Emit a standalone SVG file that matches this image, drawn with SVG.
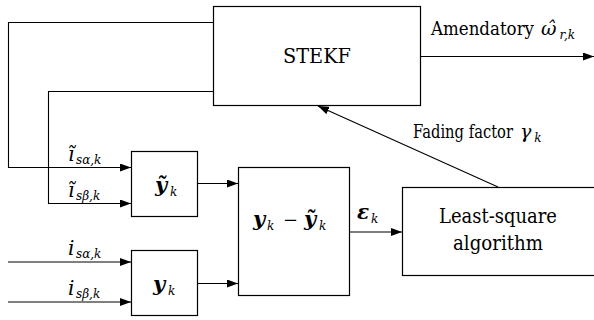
<svg xmlns="http://www.w3.org/2000/svg" width="594" height="320" viewBox="0 0 594 320">
<style>
.box{fill:#fff;stroke:#000;stroke-width:1.2}
.ln{fill:none;stroke:#000;stroke-width:1.1}
text{font-family:'DejaVu Serif',serif;fill:#000}
.it{font-style:italic}
.bi{font-style:italic;font-weight:bold}
.sub{font-style:italic;font-size:12px}
</style>
<defs>
<marker id="ah" markerUnits="userSpaceOnUse" markerWidth="12" markerHeight="8" refX="11" refY="4" orient="auto">
<path d="M0,0 L11,4 L0,8 z" fill="#000"/>
</marker>
</defs>
<g id="connectors">
<polyline class="ln" points="213,22.5 8.5,22.5 8.5,167.5 131,167.5" marker-end="url(#ah)"/>
<polyline class="ln" points="213,91.5 48.5,91.5 48.5,203.5 131,203.5" marker-end="url(#ah)"/>
<line class="ln" x1="8" y1="262" x2="131" y2="262" marker-end="url(#ah)"/>
<line class="ln" x1="8" y1="302" x2="131" y2="302" marker-end="url(#ah)"/>
<line class="ln" x1="197" y1="183.5" x2="238" y2="183.5" marker-end="url(#ah)"/>
<line class="ln" x1="197" y1="283.5" x2="238" y2="283.5" marker-end="url(#ah)"/>
<line class="ln" x1="350" y1="232" x2="402" y2="232" marker-end="url(#ah)"/>
<line class="ln" x1="498" y1="187" x2="318" y2="106" marker-end="url(#ah)"/>
<line class="ln" x1="420" y1="56.5" x2="594" y2="56.5" marker-end="url(#ah)"/>
</g>
<g id="stekf">
<rect class="box" x="213.5" y="6.5" width="207" height="99"/>
<text x="283" y="63" font-size="21" textLength="68" lengthAdjust="spacingAndGlyphs">STEKF</text>
</g>
<g id="ytilde">
<rect class="box" x="131.5" y="151.5" width="66" height="65"/>
<text y="192" font-size="21"><tspan class="bi" x="155">ỹ</tspan><tspan class="sub" x="170" dy="4">k</tspan></text>
</g>
<g id="ymeas">
<rect class="box" x="131.5" y="250.5" width="66" height="65"/>
<text y="291" font-size="21"><tspan class="bi" x="153">y</tspan><tspan class="sub" x="168" dy="4">k</tspan></text>
</g>
<g id="diff">
<rect class="box" x="238.5" y="167.5" width="111" height="128"/>
<text y="226" font-size="21"><tspan class="bi" x="253">y</tspan><tspan class="sub" x="267" dy="4">k</tspan><tspan x="283" dy="-4" font-size="18">−</tspan><tspan class="bi" x="304">ỹ</tspan><tspan class="sub" x="319" dy="4">k</tspan></text>
</g>
<g id="lsq">
<rect class="box" x="402.5" y="187.5" width="194" height="88"/>
<text x="439" y="223" font-size="21" textLength="118" lengthAdjust="spacingAndGlyphs">Least-square</text>
<text x="453" y="250" font-size="21" textLength="90" lengthAdjust="spacingAndGlyphs">algorithm</text>
</g>
<g id="labels">
<text x="431" y="35" font-size="19"><tspan textLength="103" lengthAdjust="spacingAndGlyphs">Amendatory</tspan><tspan class="it" dx="7">ω̂</tspan><tspan class="sub" dx="3" dy="4">r,k</tspan></text>
<text x="413" y="138" font-size="19"><tspan textLength="100" lengthAdjust="spacingAndGlyphs">Fading factor</tspan><tspan class="it" dx="7">γ</tspan><tspan class="sub" dx="3" dy="4">k</tspan></text>
<text y="219" font-size="20"><tspan class="bi" x="357">ε</tspan><tspan class="sub" x="371" dy="4">k</tspan></text>
<text y="161" font-size="20"><tspan class="it" x="68">ĩ</tspan><tspan class="sub" x="76" dy="3">sα,k</tspan></text>
<text y="197" font-size="20"><tspan class="it" x="68">ĩ</tspan><tspan class="sub" x="76" dy="3">sβ,k</tspan></text>
<text y="255" font-size="20"><tspan class="it" x="68">i</tspan><tspan class="sub" x="76" dy="3">sα,k</tspan></text>
<text y="295" font-size="20"><tspan class="it" x="68">i</tspan><tspan class="sub" x="76" dy="3">sβ,k</tspan></text>
</g>
</svg>
